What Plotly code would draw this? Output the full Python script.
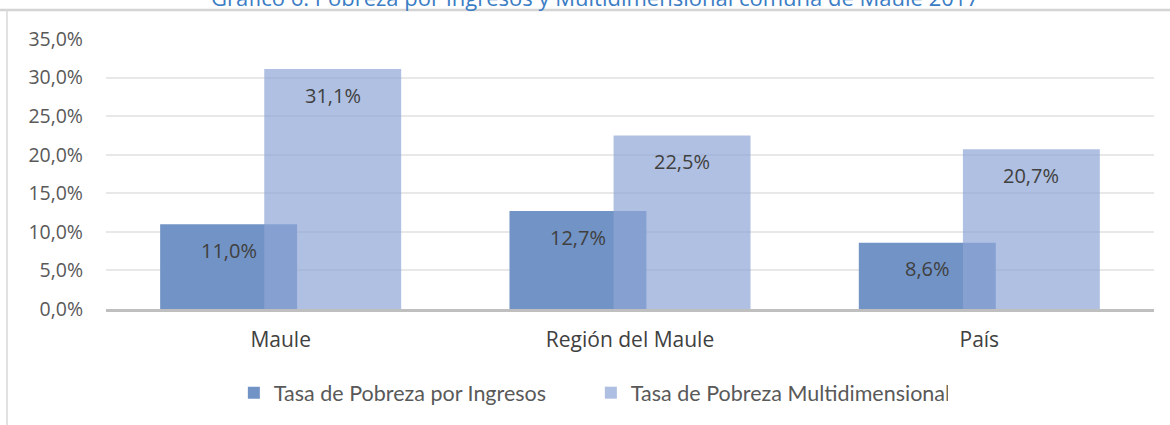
import plotly.graph_objects as go

categories = ["Maule", "Región del Maule", "País"]
ingresos = [0.110, 0.127, 0.086]
multidim = [0.311, 0.225, 0.207]
series_names = ["Tasa de Pobreza por Ingresos", "Tasa de Pobreza Multidimensional"]
title_text = "Gráfico 6: Pobreza por Ingresos y Multidimensional comuna de Maule 2017"

FONT = "Open Sans"
dark = "#7293C5"
light = "#8EA5D6"
bw = 0.392

fig = go.Figure()
fig.add_trace(go.Bar(x=categories, y=ingresos, name=series_names[0],
                     marker=dict(color=dark, line=dict(width=0)),
                     width=bw, offset=-0.345))
fig.add_trace(go.Bar(x=categories, y=multidim, name=series_names[1],
                     marker=dict(color=light, line=dict(width=0)),
                     opacity=0.7, width=bw, offset=-0.047))

def fmt(v):
    return f"{v*100:.1f}%".replace(".", ",")

for i, (a, b) in enumerate(zip(ingresos, multidim)):
    fig.add_annotation(x=i - 0.149, y=a, xref="x", yref="y", text=fmt(a),
                       showarrow=False, yshift=-26,
                       font=dict(family=FONT, size=20, color="#404040"))
    fig.add_annotation(x=i + 0.149, y=b, xref="x", yref="y", text=fmt(b),
                       showarrow=False, yshift=-26,
                       font=dict(family=FONT, size=20, color="#404040"))

fig.add_annotation(x=0.467, xref="paper", y=1.155, yref="paper", yanchor="middle",
                   text=title_text, showarrow=False,
                   font=dict(family=FONT, size=22, color="#3B7DC4"))

# frame lines
fig.add_shape(type="line", xref="paper", yref="paper",
              x0=-0.2, x1=1.2, y0=1 + 29 / 270, y1=1 + 29 / 270,
              line=dict(color="#D4D4D4", width=2.5))
fig.add_shape(type="line", xref="paper", yref="paper",
              x0=-99 / 1048, x1=-99 / 1048, y0=1 + 29 / 270, y1=-1,
              line=dict(color="#D9D9D9", width=1.5))

fig.update_layout(
    width=1170, height=425,
    margin=dict(l=106, r=16, t=39, b=116),
    paper_bgcolor="white", plot_bgcolor="white",
    separators=",.",
    barmode="overlay",
    showlegend=True,
    legend=dict(orientation="h", x=0.122, xanchor="left", y=-0.31, yanchor="middle",
                entrywidth=312, entrywidthmode="pixels",
                font=dict(family="Lato", size=21.5, color="#595959")),
    xaxis=dict(range=[-0.5, 2.5], showgrid=False, showline=True, automargin=False,
               linecolor="#BFBFBF", linewidth=2.5, ticks="",
               ticklabelstandoff=10,
               tickfont=dict(family=FONT, size=21, color="#404040")),
    yaxis=dict(range=[0, 0.35], dtick=0.05, tickformat=".1%", automargin=False,
               showgrid=True, gridcolor="#E8E8E8", gridwidth=1.5,
               zeroline=False, showline=False, ticks="",
               ticklabelstandoff=22,
               tickfont=dict(family=FONT, size=19.5, color="#595959")),
)

fig.write_html("out.html", config={"displayModeBar": False},
               post_script="document.body.style.margin='0';document.body.style.overflow='hidden';")
